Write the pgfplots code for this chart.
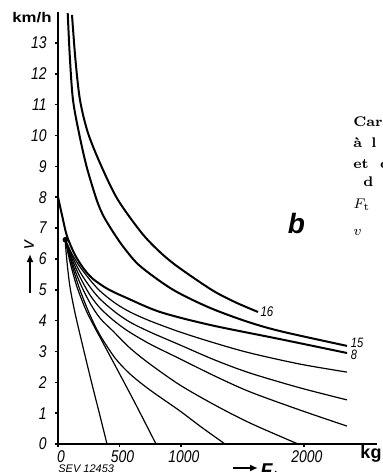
\documentclass[border=0pt]{standalone}
\usepackage{fontspec}
\usepackage{pgfplots}
\pgfplotsset{compat=1.18}
\usetikzlibrary{arrows.meta}
\newfontfamily\sfn{Liberation Sans}[FakeStretch=0.82]
\newfontfamily\sfw{Liberation Sans}[FakeStretch=1.2]
\newfontfamily\sfb{Liberation Sans}
\begin{document}
\begin{tikzpicture}
\useasboundingbox (-29pt,-14pt) rectangle (162pt,222pt);
\clip (-29pt,-14pt) rectangle (162pt,222pt);
\begin{axis}[
  at={(0pt,0pt)}, anchor=origin,
  x=0.0615pt, y=15.425pt,
  xmin=0, xmax=2590, ymin=0, ymax=14,
  axis x line=bottom, axis y line=left,
  axis line style={-, line width=0.8pt},
  xtick={0,500,1000,2000}, xticklabels={0,500,1000,2000},
  ytick={0,1,2,3,4,5,6,7,8,9,10,11,12,13},
  yticklabels={0,1,2,3,4,5,6,7,8,9,10,11,12,13},
  tick align=outside, major tick length=1.5pt,
  tick style={line width=0.8pt, black},
  ticklabel style={font=\sfn\itshape\fontsize{8.5}{9}\selectfont},
  xticklabel style={inner sep=0pt, yshift=-1.5pt, xshift=1.5pt},
  yticklabel style={inner sep=0pt, xshift=-4pt},
  clip=false,
]
% curve 16
\addplot[smooth, line width=1pt] coordinates {
 (113.8,13.91) (142,12.45) (178.9,11.15) (243.9,10.08) (355.3,8.98) (487.8,7.91)
 (680.5,6.84) (829.3,6.22) (975.6,5.74) (1252,4.99) (1439,4.60) (1626,4.28)};
% curve 15
\addplot[smooth, line width=1pt] coordinates {
 (78.9,13.97) (97.6,12.45) (122,11.15) (170.7,10.08) (233.3,8.98) (314.6,7.91)
 (365.9,7.42) (422.8,7.03) (479.7,6.68) (544.7,6.32) (666.7,5.77) (926.8,5.02)
 (1219.5,4.44) (1520.3,3.99) (1804.9,3.66) (2349.6,3.18)};
% curve 8
\addplot[smooth, line width=1pt] coordinates {
 (0,8.01) (32.5,7.42) (73.2,6.74) (138.2,6.13) (211.4,5.67) (284.6,5.35) (406.5,5.02)
 (561.0,4.73) (829.3,4.28) (1235.8,3.86) (1804.9,3.40) (2349.6,2.95)};
% fan A
\addplot[smooth, line width=0.6pt] coordinates {
 (56.9,6.65) (113.8,6.16) (178.9,5.74) (260.2,5.32) (341.5,4.96) (463.4,4.57)
 (585.4,4.28) (748.0,3.99) (991.9,3.63) (1276.4,3.27) (1561.0,2.95) (1967.5,2.59) (2349.6,2.33)};
% fan B
\addplot[smooth, line width=0.6pt] coordinates {
 (56.9,6.65) (113.8,6.09) (178.9,5.58) (260.2,5.09) (341.5,4.70) (463.4,4.28)
 (585.4,3.95) (748.0,3.63) (991.9,3.21) (1276.4,2.72) (1561.0,2.30) (1967.5,1.82) (2349.6,1.43)};
% fan C
\addplot[smooth, line width=0.6pt] coordinates {
 (56.9,6.65) (113.8,6.00) (178.9,5.41) (260.2,4.83) (341.5,4.41) (447.2,4.02)
 (569.1,3.66) (748.0,3.24) (991.9,2.76) (1276.4,2.20) (1561.0,1.69) (1967.5,1.10) (2349.6,0.58)};
% fan D
\addplot[smooth, line width=0.6pt] coordinates {
 (56.9,6.65) (113.8,5.90) (178.9,5.22) (260.2,4.57) (341.5,4.08) (447.2,3.66)
 (585.4,3.11) (748.0,2.59) (991.9,1.91) (1276.4,1.26) (1561.0,0.68) (1951.2,0)};
% fan E
\addplot[smooth, line width=0.6pt] coordinates {
 (56.9,6.65) (113.8,5.80) (178.9,4.99) (260.2,4.18) (341.5,3.53) (463.4,2.79)
 (585.4,2.27) (748.0,1.75) (991.9,1.07) (1154.5,0.58) (1357.7,0)};
% fan F
\addplot[smooth, line width=0.6pt] coordinates {
 (56.9,6.65) (97.6,5.90) (154.5,5.09) (227.6,4.34) (300.8,3.76) (357.7,3.34)
 (479.7,2.43) (626.0,1.33) (796.7,0)};
% fan G
\addplot[smooth, line width=0.6pt] coordinates {
 (56.9,6.65) (73.2,5.90) (97.6,5.09) (138.2,4.25) (203.3,3.14) (268.3,2.07)
 (333.3,1.04) (398.4,0)};
\addplot[only marks, mark=*, mark size=1.2pt] coordinates {(60,6.62)};
\node[font=\sfn\itshape\fontsize{7}{8}\selectfont, inner sep=0] at (axis cs:1699,4.28) {16};
\node[font=\sfn\itshape\fontsize{6.8}{8}\selectfont, inner sep=0] at (axis cs:2431,3.28) {15};
\node[font=\sfn\itshape\fontsize{6.8}{8}\selectfont, inner sep=0] at (axis cs:2407,2.88) {8};
\end{axis}
% axis labels and annotations
\node[anchor=base east, inner sep=0] at (-3pt,211pt) {\sfw\bfseries\fontsize{7}{8}\selectfont km/h};
\draw[line width=1pt, -{Latex[length=4pt,width=3.5pt]}] (-14pt,75.5pt) -- (-14pt,95pt);
\node[rotate=90, inner sep=0] at (-14.5pt,99.5pt) {\sfb\itshape\fontsize{9}{9}\selectfont v};
\draw[line width=1pt, -{Latex[length=4pt,width=3.5pt]}] (87.5pt,-12pt) -- (100pt,-12pt);
\node[anchor=base west, inner sep=0] at (101pt,-16.5pt) {\sfb\itshape\bfseries\fontsize{10}{10}\selectfont F\textsubscript{t}};
\node[anchor=north west, inner sep=0] at (0pt,-10.4pt) {\sfb\itshape\fontsize{5.5}{6}\selectfont SEV 12453};
\node[anchor=base, inner sep=0] at (156.5pt,-7pt) {\sfb\bfseries\fontsize{9}{9}\selectfont kg};
\node[inner sep=0] at (119.25pt,110.5pt) {\sfb\bfseries\itshape\fontsize{14}{14}\selectfont b};
\node[anchor=base west, inner sep=0] at (147.5pt,158.5pt) {\bfseries\fontsize{7}{8}\selectfont Car};
\node[anchor=base west, inner sep=0] at (147.5pt,148pt) {\bfseries\fontsize{7}{8}\selectfont à\hspace{4.6pt}l};
\node[anchor=base west, inner sep=0] at (147.5pt,138pt) {\bfseries\fontsize{7}{8}\selectfont et\hspace{5.7pt}c};
\node[anchor=base west, inner sep=0] at (152.5pt,128.5pt) {\bfseries\fontsize{7}{8}\selectfont d};
\node[anchor=base west, inner sep=0] at (147.5pt,117.5pt) {\fontsize{7.5}{9}\selectfont $F_\mathrm{t}$};
\node[anchor=base west, inner sep=0] at (147.5pt,104pt) {\fontsize{7.5}{9}\selectfont $v$};
\end{tikzpicture}
\end{document}
